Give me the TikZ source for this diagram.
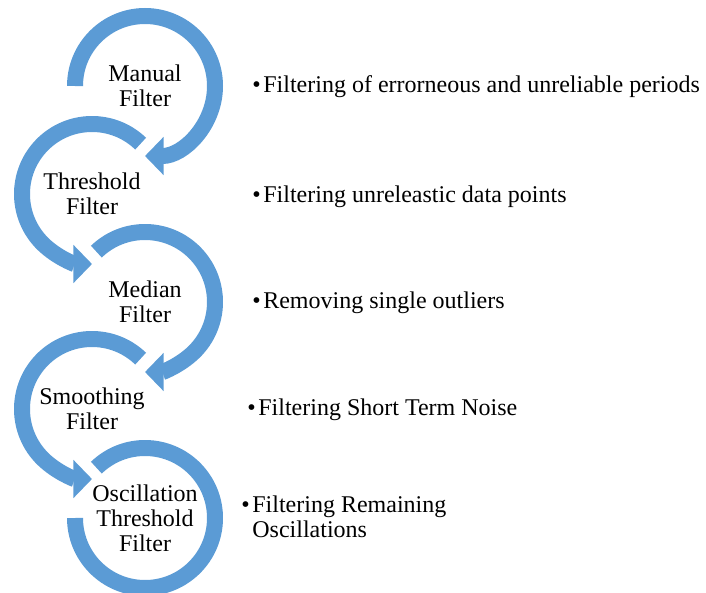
\documentclass[tikz,border=0pt]{standalone}
\usepackage{fontspec}
\setmainfont{Liberation Serif}
\usetikzlibrary{arrows.meta}
\definecolor{ringblue}{HTML}{5B9BD5}
\tikzset{
  filter/.style={align=center, inner sep=0pt, font=\fontsize{18}{18.75}\selectfont},
  note/.style={anchor=base west, align=left, inner sep=0pt, font=\fontsize{18}{18.75}\selectfont},
  ring/.style={draw=ringblue, line width=12pt},
  ringarrow/.style={ring, -{Triangle[length=14pt, width=28pt]}},
}
\newcommand{\bul}{\textbullet\hspace{2pt}}

\begin{document}
\begin{tikzpicture}[x=0.75pt, y=0.75pt]
\useasboundingbox (0,0) rectangle (706,-592);
\node[filter] (manual) at (145,-86) {Manual\\Filter};
\node[filter] (threshold) at (92,-194) {Threshold\\Filter};
\node[filter] (median) at (145,-302) {Median\\Filter};
\node[filter] (smoothing) at (92,-409) {Smoothing\\Filter};
\node[filter] (oscillation) at (145,-518) {Oscillation\\Threshold\\Filter};
% the circular arrows, bottom one first
\draw[ring] ([shift={(134:70)}]oscillation.center) arc[start angle=134, end angle=-180, radius=70];
\draw[ringarrow] ([shift={(46:70)}]smoothing.center) arc[start angle=46, end angle=270, radius=70];
\draw[ringarrow] ([shift={(134:70)}]median.center) arc[start angle=134, end angle=-90, radius=70];
\draw[ringarrow] ([shift={(46:70)}]threshold.center) arc[start angle=46, end angle=270, radius=70];
\draw[ringarrow] ([shift={(180:70)}]manual.center) arc[start angle=180, end angle=-90, radius=70];
% notes
\node[note] (manualtxt) at (252,-93) {\bul Filtering of errorneous and unreliable periods};
\node[note] (thresholdtxt) at (252,-202) {\bul Filtering unreleastic data points};
\node[note] (mediantxt) at (252,-308) {\bul Removing single outliers};
\node[note] (smoothingtxt) at (247,-415) {\bul Filtering Short Term Noise};
\node[note] (oscillationtxt) at (241,-537) {\bul Filtering Remaining\\\hphantom{\bul}Oscillations};
\end{tikzpicture}
\end{document}
